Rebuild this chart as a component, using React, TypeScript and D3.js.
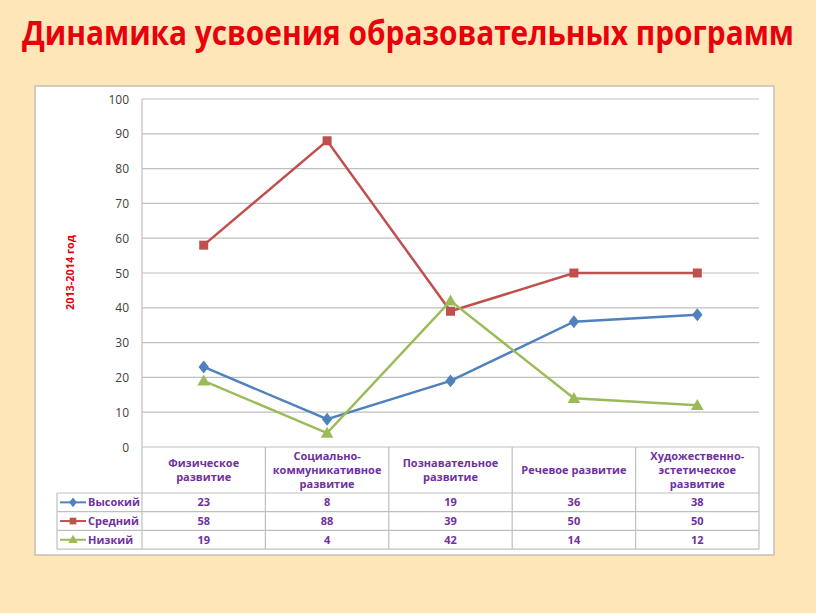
import React from "react";
import * as d3 from "d3";

const title = "Динамика усвоения образовательных программ";
const yAxisTitle = "2013-2014 год";
const categories: string[][] = [
  ["Физическое", "развитие"],
  ["Социально-", "коммуникативное", "развитие"],
  ["Познавательное", "развитие"],
  ["Речевое развитие"],
  ["Художественно-", "эстетическое", "развитие"],
];
const seriesNames = ["Высокий", "Средний", "Низкий"];
const high = [23, 8, 19, 36, 38];
const mid = [58, 88, 39, 50, 50];
const low = [19, 4, 42, 14, 12];
const yTicks = [0, 10, 20, 30, 40, 50, 60, 70, 80, 90, 100];

const seriesData = [high, mid, low];
const colors = ["#4F81BD", "#C0504D", "#9BBB59"];
const markers = [d3.symbolDiamond, d3.symbolSquare, d3.symbolTriangle];
const markerSizes = [60, 81, 70];

export default function App() {
  const W = 816, H = 613;
  const plotL = 142, plotR = 759, plotT = 99, plotB = 447;
  const x = d3.scaleBand<number>().domain(categories.map((_, i) => i)).range([plotL, plotR]);
  const y = d3.scaleLinear().domain([0, 100]).range([plotB, plotT]);
  const cx = (i: number) => (x(i) as number) + x.bandwidth() / 2;
  const line = d3.line<number>().x((_, i) => cx(i)).y((d) => y(d));
  const headerB = 493;
  const rowH = 18.7;
  const legendL = 57;
  const font = "'Open Sans', 'DejaVu Sans', sans-serif";
  const purple = "#7030A0";
  const grid = "#BFBFBF";

  return (
    <svg width={W} height={H} style={{ position: "absolute", left: 0, top: 0 }}>
      <rect x={0} y={0} width={W} height={H} fill="#FFE6B8" />
      <text x={408} y={45} textAnchor="middle" fill="#E8000B" fontFamily="'Liberation Sans Narrow', 'Open Sans', sans-serif" fontWeight="bold" fontSize={34} textLength={772} lengthAdjust="spacingAndGlyphs">{title}</text>
      <rect x={35} y={86} width={739} height={469} fill="#FFFFFF" stroke="#C8C0B0" strokeWidth={1.5} />
      {yTicks.map((t) => (
        <g key={t}>
          <line x1={plotL} x2={plotR} y1={y(t)} y2={y(t)} stroke={grid} strokeWidth={1.2} />
          <text x={129} y={y(t) + 4.5} textAnchor="end" fontFamily={font} fontSize={12} fill="#404040">{t}</text>
        </g>
      ))}
      <line x1={plotL} x2={plotL} y1={plotT} y2={plotB} stroke={grid} strokeWidth={1.2} />
      <text transform={`translate(74,272.5) rotate(-90)`} textAnchor="middle" fontFamily={font} fontWeight="bold" fontSize={11} fill="#E8000B" textLength={75} lengthAdjust="spacingAndGlyphs">{yAxisTitle}</text>
      {seriesData.map((s, si) => (
        <g key={si}>
          <path d={line(s) || ""} fill="none" stroke={colors[si]} strokeWidth={2.5} />
          {s.map((v, i) => (
            <path key={i} transform={`translate(${cx(i)},${y(v)})${si === 2 ? " translate(0,1)" : ""}${si === 0 ? " scale(1.25,0.9)" : ""}`} d={d3.symbol().type(markers[si]).size(markerSizes[si])() || ""} fill={colors[si]} />
          ))}
        </g>
      ))}
      <g>
        {categories.map((_, i) => (
          <line key={"v" + i} x1={x(i) as number} x2={x(i) as number} y1={plotB} y2={headerB + rowH * 3} stroke={grid} strokeWidth={1.2} />
        ))}
        <line x1={plotR} x2={plotR} y1={plotB} y2={headerB + rowH * 3} stroke={grid} strokeWidth={1.2} />
        <line x1={legendL} x2={legendL} y1={headerB} y2={headerB + rowH * 3} stroke={grid} strokeWidth={1.2} />
        {[0, 1, 2, 3].map((r) => (
          <line key={"h" + r} x1={legendL} x2={plotR} y1={headerB + rowH * r} y2={headerB + rowH * r} stroke={grid} strokeWidth={1.2} />
        ))}
        {categories.map((lines, i) => {
          const lh = 14;
          const mid0 = (plotB + headerB) / 2 + 4 - ((lines.length - 1) * lh) / 2;
          return (
            <text key={"c" + i} textAnchor="middle" fontFamily={font} fontWeight="bold" fontSize={11} fill={purple}>
              {lines.map((l, j) => (
                <tspan key={j} x={cx(i)} y={mid0 + j * lh}>{l}</tspan>
              ))}
            </text>
          );
        })}
        {seriesData.map((s, si) => {
          const ry = headerB + rowH * si + rowH / 2 + 4;
          return (
            <g key={"r" + si}>
              <line x1={60} x2={86} y1={ry - 4} y2={ry - 4} stroke={colors[si]} strokeWidth={2} />
              <path transform={`translate(73,${ry - 4 + (si === 2 ? 0.5 : 0)})${si === 0 ? " scale(1.25,0.9)" : ""}`} d={d3.symbol().type(markers[si]).size(markerSizes[si] * 0.55)() || ""} fill={colors[si]} />
              <text x={88} y={ry} fontFamily={font} fontWeight="bold" fontSize={11} fill={purple}>{seriesNames[si]}</text>
              {s.map((v, i) => (
                <text key={i} x={cx(i)} y={ry} textAnchor="middle" fontFamily={font} fontWeight="bold" fontSize={11} fill={purple}>{v}</text>
              ))}
            </g>
          );
        })}
      </g>
    </svg>
  );
}
